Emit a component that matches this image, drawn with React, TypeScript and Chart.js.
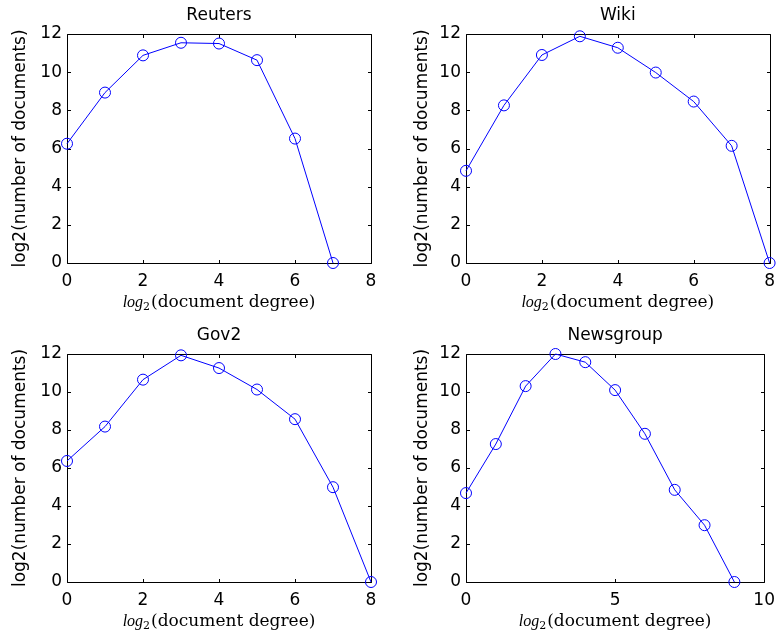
import React, { useEffect, useRef } from "react";
import { Chart, registerables } from "chart.js";

Chart.register(...registerables);

// ---- data ----
const reutersX = [0, 1, 2, 3, 4, 5, 6, 7];
const reutersY = [6.25, 8.93, 10.88, 11.54, 11.5, 10.63, 6.52, 0];

const wikiX = [0, 1, 2, 3, 4, 5, 6, 7, 8];
const wikiY = [4.83, 8.26, 10.9, 11.88, 11.28, 9.98, 8.46, 6.14, 0];

const gov2X = [0, 1, 2, 3, 4, 5, 6, 7, 8];
const gov2Y = [6.37, 8.18, 10.65, 11.93, 11.26, 10.13, 8.57, 4.99, 0];

const newsX = [0, 1, 2, 3, 4, 5, 6, 7, 8, 9];
const newsY = [4.68, 7.26, 10.31, 12.0, 11.57, 10.1, 7.8, 4.85, 2.99, 0];

const yTicks = [0, 2, 4, 6, 8, 10, 12];
const xTicks8 = [0, 2, 4, 6, 8];
const xTicks10 = [0, 5, 10];

const titles = ["Reuters", "Wiki", "Gov2", "Newsgroup"];
const yAxisLabel = "log2(number of documents)";
const xLabelLog = "log";
const xLabelSub = "2";
const xLabelRest = "(document degree)";

// ---- layout (positions only) ----
type Panel = {
  title: string;
  xs: number[];
  ys: number[];
  xTicks: number[];
  canvas: { x: number; y: number; w: number; h: number };
  area: { l: number; t: number; r: number; b: number };
  yLabelCenter: number;
};

const panels: Panel[] = [
  {
    title: titles[0], xs: reutersX, ys: reutersY, xTicks: xTicks8,
    canvas: { x: 0, y: 0, w: 390, h: 320 },
    area: { l: 67, t: 34, r: 371, b: 263 }, yLabelCenter: 20.5,
  },
  {
    title: titles[1], xs: wikiX, ys: wikiY, xTicks: xTicks8,
    canvas: { x: 390, y: 0, w: 393, h: 320 },
    area: { l: 466, t: 34, r: 771, b: 263 }, yLabelCenter: 422.5,
  },
  {
    title: titles[2], xs: gov2X, ys: gov2Y, xTicks: xTicks8,
    canvas: { x: 0, y: 320, w: 390, h: 320 },
    area: { l: 67, t: 354, r: 371, b: 582 }, yLabelCenter: 20.5,
  },
  {
    title: titles[3], xs: newsX, ys: newsY, xTicks: xTicks10,
    canvas: { x: 390, y: 320, w: 393, h: 320 },
    area: { l: 466, t: 354, r: 771, b: 582 }, yLabelCenter: 422.5,
  },
];

const SANS = '"DejaVu Sans", sans-serif';
const BLUE = "#0000ff";

const boxPlugin = {
  id: "matlabBox",
  beforeDatasetsDraw(chart: any) {
    const { ctx, chartArea } = chart;
    const { left, top, right, bottom } = chartArea;
    const xs = chart.scales.x;
    const ys = chart.scales.y;
    const tl = 3.5;
    ctx.save();
    ctx.strokeStyle = "#000";
    ctx.lineWidth = 1;
    ctx.beginPath();
    const L = Math.round(left) + 0.5;
    const R = Math.round(right) + 0.5;
    const T = Math.round(top) + 0.5;
    const B = Math.round(bottom) + 0.5;
    ctx.rect(L, T, R - L, B - T);
    xs.ticks.forEach((t: any) => {
      const px = Math.round(xs.getPixelForValue(t.value)) + 0.5;
      ctx.moveTo(px, B);
      ctx.lineTo(px, B - tl);
      ctx.moveTo(px, T);
      ctx.lineTo(px, T + tl);
    });
    ys.ticks.forEach((t: any) => {
      const py = Math.round(ys.getPixelForValue(t.value)) + 0.5;
      ctx.moveTo(L, py);
      ctx.lineTo(L + tl, py);
      ctx.moveTo(R, py);
      ctx.lineTo(R - tl, py);
    });
    ctx.stroke();
    ctx.restore();
  },
  afterDraw(chart: any, _args: any, opts: any) {
    const { ctx, chartArea } = chart;
    const cx = (chartArea.left + chartArea.right) / 2;
    ctx.save();
    ctx.fillStyle = "#000";
    ctx.textBaseline = "alphabetic";
    // title
    ctx.font = `17px ${SANS}`;
    ctx.textAlign = "center";
    ctx.fillText(opts.title, cx, chartArea.top - 14);
    // x label: log_2(document degree)
    ctx.textAlign = "left";
    const fLog = 'italic 16px "Liberation Serif", serif';
    const fSub = '11px "DejaVu Serif", serif';
    const fRest = '17px "DejaVu Serif", serif';
    ctx.font = fLog;
    const wLog = ctx.measureText(xLabelLog).width;
    ctx.font = fSub;
    const wSub = ctx.measureText(xLabelSub).width;
    ctx.font = fRest;
    const wRest = ctx.measureText(xLabelRest).width;
    const total = wLog + wSub + 1 + wRest;
    let x = cx - total / 2;
    const base = chartArea.bottom + 44;
    ctx.font = fLog;
    ctx.fillText(xLabelLog, x, base);
    x += wLog;
    ctx.font = fSub;
    ctx.fillText(xLabelSub, x, base + 3);
    x += wSub + 1;
    ctx.font = fRest;
    ctx.fillText(xLabelRest, x, base);
    ctx.restore();
  },
};

function PanelChart({ p }: { p: Panel }) {
  const ref = useRef<HTMLCanvasElement | null>(null);
  useEffect(() => {
    if (!ref.current) return;
    const c = p.canvas;
    const l = p.area.l - c.x;
    const t = p.area.t - c.y;
    const r = p.area.r - c.x;
    const b = p.area.b - c.y;
    const yLabPad = p.yLabelCenter - c.x - 10.2;
    const xMax = p.xTicks[p.xTicks.length - 1];
    const chart = new Chart(ref.current, {
      type: "line",
      data: {
        datasets: [
          {
            data: p.xs.map((x, i) => ({ x, y: p.ys[i] })),
            borderColor: BLUE,
            borderWidth: 1,
            pointRadius: 5.5,
            pointBorderWidth: 1,
            pointBorderColor: BLUE,
            pointBackgroundColor: "rgba(0,0,0,0)",
            pointStyle: "circle",
            tension: 0,
            fill: false,
            clip: false as any,
          },
        ],
      },
      options: {
        responsive: false,
        animation: false,
        devicePixelRatio: 1,
        events: [],
        layout: { padding: { top: t, right: c.w - r, left: 0, bottom: 0 } },
        plugins: {
          legend: { display: false },
          tooltip: { enabled: false },
          title: { display: false },
          matlabBox: { title: p.title },
        } as any,
        scales: {
          x: {
            type: "linear",
            min: 0,
            max: xMax,
            grid: { display: false, drawTicks: false },
            border: { display: false },
            ticks: {
              color: "#000",
              font: { family: SANS, size: 17 },
              padding: 8,
              maxRotation: 0,
              autoSkip: false,
            },
            afterBuildTicks: (s: any) => {
              s.ticks = p.xTicks.map((v) => ({ value: v }));
            },
            afterFit: (s: any) => {
              s.height = c.h - b;
            },
          },
          y: {
            type: "linear",
            min: 0,
            max: 12,
            grid: { display: false, drawTicks: false },
            border: { display: false },
            ticks: {
              color: "#000",
              font: { family: SANS, size: 17 },
              padding: 5,
              autoSkip: false,
            },
            afterBuildTicks: (s: any) => {
              s.ticks = yTicks.map((v) => ({ value: v }));
            },
            afterFit: (s: any) => {
              s.width = l;
            },
            title: {
              display: true,
              text: yAxisLabel,
              color: "#000",
              font: { family: SANS, size: 17 },
              padding: { top: yLabPad, bottom: 0 },
            },
          },
        },
      },
      plugins: [boxPlugin],
    });
    return () => chart.destroy();
  }, [p]);
  return (
    <canvas
      ref={ref}
      width={p.canvas.w}
      height={p.canvas.h}
      style={{
        position: "absolute",
        left: p.canvas.x,
        top: p.canvas.y,
        width: p.canvas.w,
        height: p.canvas.h,
      }}
    />
  );
}

export default function App() {
  return (
    <div
      style={{
        position: "absolute",
        left: 0,
        top: 0,
        width: 783,
        height: 640,
        background: "#fff",
        overflow: "hidden",
      }}
    >
      {panels.map((p, i) => (
        <PanelChart key={i} p={p} />
      ))}
    </div>
  );
}
